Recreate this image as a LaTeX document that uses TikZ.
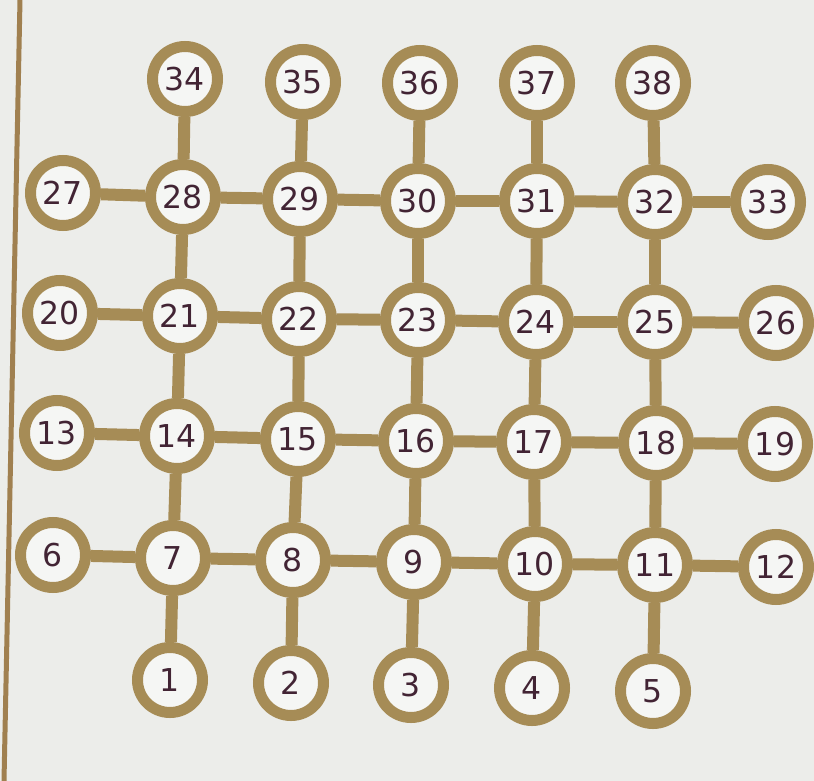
\documentclass[tikz,border=0pt]{standalone}
\usepackage{fontspec}
\setmainfont{DejaVu Sans}
\definecolor{gold}{RGB}{166,140,86}
\definecolor{paper}{RGB}{236,237,234}
\definecolor{ink}{RGB}{66,36,52}
\definecolor{edge}{RGB}{160,128,80}
\tikzset{
  spot/.style={circle, draw=gold, line width=11pt, fill=white!50!paper, minimum size=65pt, inner sep=0pt,
    text=ink, font=\fontsize{31.5}{31.5}\selectfont},
  link/.style={draw=gold, line width=12pt}
}
\begin{document}
\begin{tikzpicture}[x=1pt,y=-1pt]
\useasboundingbox (0,0) rectangle (814,781);
\fill[paper] (0,0) rectangle (814,781);
\coordinate (e1) at (20,0);
\coordinate (e2) at (4,781);
\draw[edge, line width=5pt] (e1) -- (e2);
% nodes
\node[spot] (n1) at (170,680) {1};
\node[spot] (n2) at (291,683) {2};
\node[spot] (n3) at (411,685) {3};
\node[spot] (n4) at (532,688) {4};
\node[spot] (n5) at (653,691) {5};
\node[spot] (n6) at (53,555) {6};
\node[spot] (n7) at (173,558) {7};
\node[spot] (n8) at (293,560) {8};
\node[spot] (n9) at (414,562) {9};
\node[spot] (n10) at (535,564) {10};
\node[spot] (n11) at (655,565) {11};
\node[spot] (n12) at (776,567) {12};
\node[spot] (n13) at (57,433) {13};
\node[spot] (n14) at (177,436) {14};
\node[spot] (n15) at (298,439) {15};
\node[spot] (n16) at (416,441) {16};
\node[spot] (n17) at (534,442) {17};
\node[spot] (n18) at (656,443) {18};
\node[spot] (n19) at (775,444) {19};
\node[spot] (n20) at (60,313) {20};
\node[spot] (n21) at (180,316) {21};
\node[spot] (n22) at (299,319) {22};
\node[spot] (n23) at (418,320) {23};
\node[spot] (n24) at (536,322) {24};
\node[spot] (n25) at (655,322) {25};
\node[spot] (n26) at (776,323) {26};
\node[spot] (n27) at (63,193) {27};
\node[spot] (n28) at (183,197) {28};
\node[spot] (n29) at (300,199) {29};
\node[spot] (n30) at (418,201) {30};
\node[spot] (n31) at (537,201) {31};
\node[spot] (n32) at (655,202) {32};
\node[spot] (n33) at (768,202) {33};
\node[spot] (n34) at (185,79) {34};
\node[spot] (n35) at (303,82) {35};
\node[spot] (n36) at (420,83) {36};
\node[spot] (n37) at (537,83) {37};
\node[spot] (n38) at (653,83) {38};
% horizontal links
\foreach \a/\b in {6/7,7/8,8/9,9/10,10/11,11/12,
                   13/14,14/15,15/16,16/17,17/18,18/19,
                   20/21,21/22,22/23,23/24,24/25,25/26,
                   27/28,28/29,29/30,30/31,31/32,32/33}
  \draw[link] (n\a) -- (n\b);
% vertical links
\foreach \a/\b in {1/7,7/14,14/21,21/28,28/34,
                   2/8,8/15,15/22,22/29,29/35,
                   3/9,9/16,16/23,23/30,30/36,
                   4/10,10/17,17/24,24/31,31/37,
                   5/11,11/18,18/25,25/32,32/38}
  \draw[link] (n\a) -- (n\b);
\end{tikzpicture}
\end{document}
